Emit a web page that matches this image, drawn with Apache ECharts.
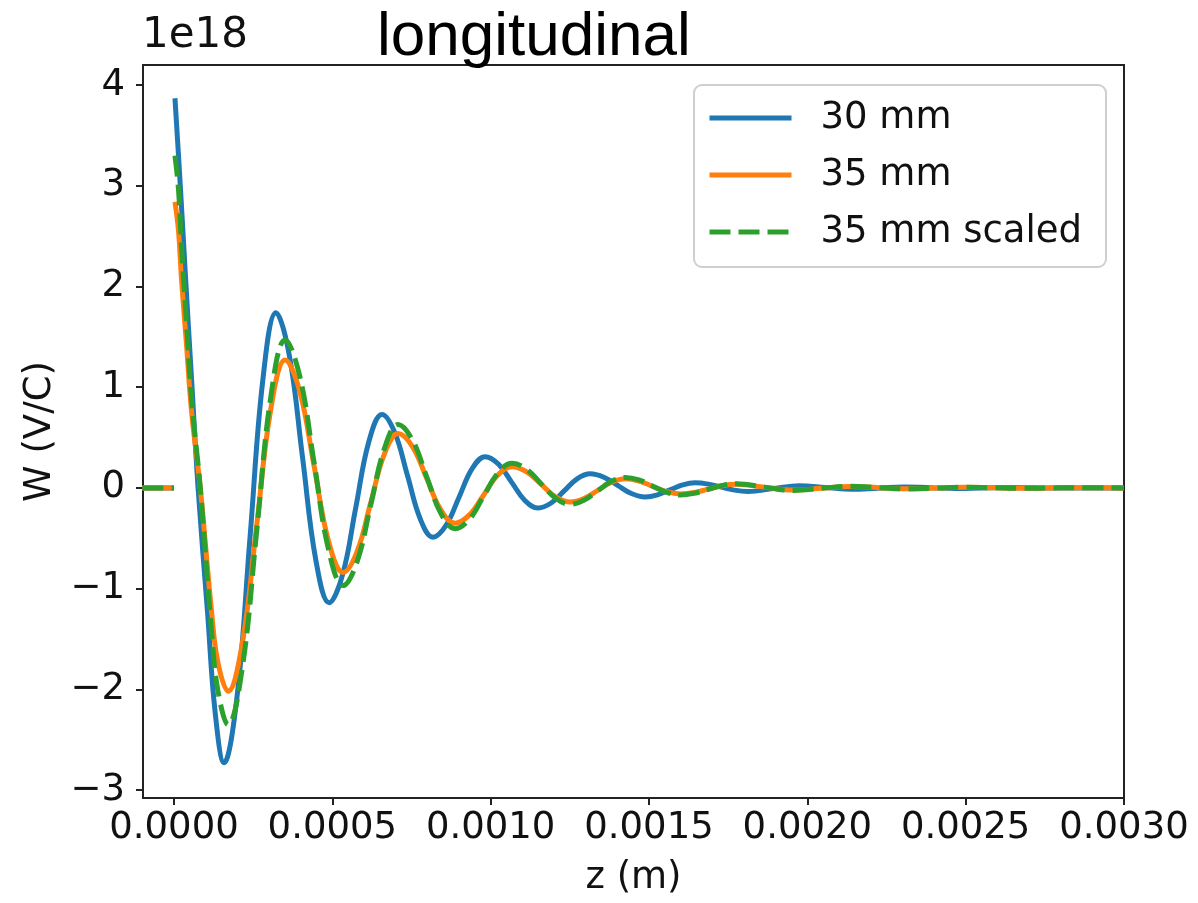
<!DOCTYPE html>
<html>
<head>
<meta charset="utf-8">
<script src="https://cdn.jsdelivr.net/npm/echarts@6/dist/echarts.min.js"></script>
<style>
html,body{margin:0;padding:0;background:#fff;}
#c{width:1198px;height:903px;}
</style>
</head>
<body>
<div id="c"></div>
<script>
// z positions in micrometres (converted to metres for the axis), W in units of 1e18 V/C
const zBlueUm = [-100, 0, 1, 3, 19, 37, 56, 76, 106, 130, 158, 199, 240, 281, 322, 364, 406, 448, 490, 532, 573.5, 615, 657, 697, 737.5, 778, 818, 859, 900.5, 942, 983, 1025, 1066.5, 1108, 1150, 1191, 1232, 1273, 1314, 1357.5, 1401, 1444.5, 1488, 1527, 1566.5, 1606, 1645, 1687, 1728.5, 1770, 1812, 1893.5, 1975, 2057.5, 2140, 2222.5, 2305, 2387.5, 2470, 2552.5, 2635, 2717.5, 2800, 3000];
const wBlue = [0, 0, null, 3.87, 3.05, 2.06, 1.05, 0.0, -1.24, -2.23, -2.73, -2.075, -0.495, 1.085, 1.74, 1.318, 0.30, -0.718, -1.14, -0.866, -0.205, 0.456, 0.73, 0.551, 0.12, -0.311, -0.49, -0.373, -0.09, 0.193, 0.31, 0.235, 0.055, -0.125, -0.20, -0.15, -0.03, 0.09, 0.14, 0.106, 0.025, -0.056, -0.09, -0.069, -0.02, 0.029, 0.05, 0.0375, 0.0075, -0.0225, -0.035, -0.0065, 0.022, 0.004, -0.014, -0.0025, 0.009, 0.002, -0.005, -0.001, 0.003, 0.0005, -0.002, 0.0];

const zOrangeUm = [-100, 0, 1, 3, 14, 24, 40, 56, 83, 119, 139, 171, 216, 261, 306, 351, 396.75, 442.5, 488.25, 534, 577.5, 621, 664.5, 708, 753, 798, 843, 888, 933, 978, 1023, 1068, 1113.75, 1159.5, 1205.25, 1251, 1294.5, 1338, 1381.5, 1425, 1468.5, 1512, 1555.5, 1599, 1643, 1687, 1731, 1775, 1865, 1955, 2045, 2135, 2225, 2315, 2405, 2495, 2585, 2675, 2765, 2855, 3000];
const wOrange = [0, 0, null, 2.84, 2.56, 2.06, 1.40, 0.74, 0.0, -1.24, -1.74, -2.02, -1.538, -0.375, 0.788, 1.27, 0.961, 0.215, -0.531, -0.84, -0.638, -0.15, 0.338, 0.54, 0.41, 0.095, -0.22, -0.35, -0.268, -0.07, 0.128, 0.21, 0.159, 0.035, -0.089, -0.14, -0.106, -0.025, 0.056, 0.09, 0.068, 0.015, -0.038, -0.06, -0.046, -0.0125, 0.021, 0.035, 0.0065, -0.022, -0.004, 0.014, 0.0025, -0.009, -0.0015, 0.006, 0.001, -0.004, -0.001, 0.002, 0.0];

const zGreenUm = zOrangeUm.slice();
const wGreen = [0, 0, null, 3.30, 2.97, 2.39, 1.62, 0.86, 0.0, -1.44, -2.02, -2.35, -1.78, -0.435, 0.91, 1.47, 1.115, 0.25, -0.616, -0.97, -0.74, -0.174, 0.392, 0.63, 0.476, 0.11, -0.255, -0.405, -0.311, -0.081, 0.148, 0.244, 0.184, 0.041, -0.103, -0.162, -0.123, -0.029, 0.065, 0.104, 0.079, 0.017, -0.044, -0.07, -0.053, -0.0145, 0.024, 0.041, 0.0075, -0.0255, -0.0046, 0.016, 0.0029, -0.0104, -0.0017, 0.007, 0.0012, -0.0046, -0.0012, 0.0023, 0.0];

const seriesNames = ['30 mm', '35 mm', '35 mm scaled'];
const xTicks = [0, 0.0005, 0.0010, 0.0015, 0.0020, 0.0025, 0.0030];
const yTicks = [-3, -2, -1, 0, 1, 2, 3, 4];

const toPairs = (zs, ws) => zs.map((z, i) => [z / 1e6, ws[i]]);

const FONT = 'DejaVu Sans';
const LW = 5;
const chart = echarts.init(document.getElementById('c'), null, {renderer: 'canvas'});
chart.setOption({
  animation: false,
  backgroundColor: '#fff',
  grid: {left: 143, right: 74, top: 65, bottom: 105, show: true, borderColor: '#222', borderWidth: 2, backgroundColor: 'transparent'},
  title: {
    text: 'longitudinal', left: 372, top: 2,
    textStyle: {fontFamily: 'Liberation Sans', fontSize: 62, fontWeight: 'normal', color: '#000'}
  },
  graphic: [{
    type: 'text', left: 142, top: 15,
    style: {text: '1e18', font: '42px "DejaVu Sans"', fill: '#111'}
  }],
  legend: {
    orient: 'vertical', left: 694, top: 85,
    itemWidth: 82, itemHeight: 14, itemGap: 17,
    padding: [13, 24, 15, 13],
    backgroundColor: '#fff', borderColor: '#cfcfcf', borderWidth: 2, borderRadius: 8,
    itemStyle: {color: 'transparent', borderWidth: 0},
    lineStyle: {width: LW},
    textStyle: {fontFamily: FONT, fontSize: 37, color: '#111', lineHeight: 40, padding: [0, 0, 0, 24]},
    data: seriesNames
  },
  xAxis: {
    type: 'value', min: -0.0000979, max: 0.003,
    name: 'z (m)', nameLocation: 'middle', nameGap: 62,
    nameTextStyle: {fontFamily: FONT, fontSize: 37, color: '#111'},
    axisLine: {show: false, onZero: false},
    splitLine: {show: false},
    axisTick: {show: true, customValues: xTicks, length: 7, inside: false, lineStyle: {color: '#222', width: 2}},
    axisLabel: {customValues: xTicks, margin: 12, fontFamily: FONT, fontSize: 37, color: '#111',
      formatter: v => v.toFixed(4)}
  },
  yAxis: {
    type: 'value', min: -3.08, max: 4.2,
    name: 'W (V/C)', nameLocation: 'middle', nameGap: 84, nameRotate: 90,
    nameTextStyle: {fontFamily: FONT, fontSize: 37, color: '#111'},
    axisLine: {show: false, onZero: false},
    splitLine: {show: false},
    axisTick: {show: true, customValues: yTicks, length: 7, inside: false, lineStyle: {color: '#222', width: 2}},
    axisLabel: {customValues: yTicks, margin: 18, fontFamily: FONT, fontSize: 37, color: '#111',
      formatter: v => (v < 0 ? '\u2212' + Math.abs(v) : String(v))}
  },
  series: [
    {name: seriesNames[0], type: 'line', data: toPairs(zBlueUm, wBlue), symbol: 'none', smooth: 0.4, connectNulls: false,
     lineStyle: {color: '#1f77b4', width: LW}, itemStyle: {color: '#1f77b4'}},
    {name: seriesNames[1], type: 'line', data: toPairs(zOrangeUm, wOrange), symbol: 'none', smooth: 0.4, connectNulls: false,
     lineStyle: {color: '#ff7f0e', width: LW}, itemStyle: {color: '#ff7f0e'}},
    {name: seriesNames[2], type: 'line', data: toPairs(zGreenUm, wGreen), symbol: 'none', smooth: 0.4, connectNulls: false,
     lineStyle: {color: '#2ca02c', width: LW, type: [21, 8]}, itemStyle: {color: '#2ca02c'}}
  ]
});
</script>
</body>
</html>
